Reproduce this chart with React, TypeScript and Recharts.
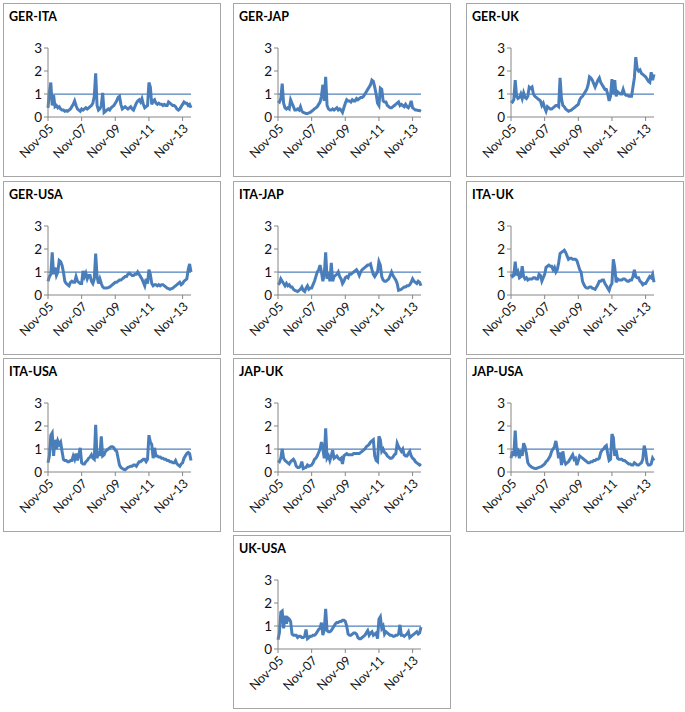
import React from "react";
import { LineChart, Line, XAxis, YAxis, ReferenceLine } from "recharts";

// monthly values, Nov-05 .. May-14 (103 months)
const gerIta = [0.4, 1.1, 1.5, 0.5, 0.95, 0.45, 0.5, 0.4, 0.45, 0.35, 0.3, 0.3, 0.25, 0.28, 0.25, 0.3, 0.35, 0.45, 0.55, 0.7, 0.5, 0.35, 0.3, 0.25, 0.35, 0.3, 0.35, 0.4, 0.35, 0.4, 0.45, 0.5, 0.6, 0.9, 1.9, 0.5, 0.3, 0.35, 0.5, 1.05, 0.2, 0.25, 0.3, 0.35, 0.3, 0.4, 0.45, 0.5, 0.6, 0.7, 0.85, 0.9, 0.55, 0.35, 0.4, 0.45, 0.4, 0.35, 0.4, 0.45, 0.35, 0.3, 0.45, 0.6, 0.7, 0.75, 0.65, 0.8, 0.55, 0.4, 0.45, 0.5, 1.5, 1.3, 0.55, 0.7, 0.75, 0.6, 0.55, 0.6, 0.55, 0.55, 0.5, 0.55, 0.5, 0.5, 0.65, 0.6, 0.55, 0.5, 0.5, 0.45, 0.35, 0.3, 0.35, 0.45, 0.55, 0.65, 0.6, 0.6, 0.5, 0.55, 0.4];
const gerJap = [0.7, 0.65, 0.8, 1.45, 0.6, 0.4, 0.35, 0.4, 0.35, 0.75, 0.6, 0.45, 0.3, 0.3, 0.35, 0.3, 0.45, 0.25, 0.2, 0.18, 0.15, 0.15, 0.18, 0.2, 0.25, 0.3, 0.35, 0.4, 0.45, 0.55, 0.65, 0.9, 1.4, 0.7, 1.75, 0.5, 0.35, 0.3, 0.3, 0.35, 0.3, 0.35, 0.4, 0.3, 0.35, 0.3, 0.2, 0.4, 0.6, 0.75, 0.7, 0.7, 0.65, 0.75, 0.7, 0.7, 0.8, 0.75, 0.8, 0.85, 0.85, 0.9, 1.0, 1.1, 1.2, 1.3, 1.4, 1.6, 1.55, 1.3, 1.0, 0.6, 0.5, 1.25, 1.2, 0.7, 0.65, 0.65, 0.5, 0.45, 0.4, 0.4, 0.45, 0.5, 0.55, 0.6, 0.65, 0.5, 0.55, 0.5, 0.45, 0.55, 0.45, 0.4, 0.5, 0.7, 0.4, 0.35, 0.3, 0.3, 0.28, 0.28, 0.25];
const gerUk = [0.7, 0.65, 0.75, 1.6, 0.9, 0.8, 0.85, 1.0, 0.8, 1.05, 0.85, 0.8, 0.9, 1.3, 1.25, 1.3, 1.0, 0.9, 0.85, 0.8, 0.75, 0.7, 0.5, 0.6, 0.4, 0.25, 0.45, 0.4, 0.35, 0.35, 0.4, 0.45, 0.5, 0.5, 0.45, 1.7, 0.8, 0.5, 0.45, 0.35, 0.3, 0.25, 0.28, 0.3, 0.35, 0.4, 0.45, 0.5, 0.55, 0.75, 0.85, 0.9, 1.0, 1.1, 1.2, 1.4, 1.75, 1.7, 1.6, 1.45, 1.3, 1.45, 1.6, 1.7, 1.5, 1.4, 1.3, 1.2, 1.2, 1.0, 0.7, 0.9, 1.65, 1.0, 1.6, 0.9, 1.1, 1.05, 1.0, 1.0, 1.2, 1.0, 0.95, 0.95, 0.9, 0.9, 0.9, 1.3, 1.7, 2.6, 2.1, 2.0, 2.05, 1.9, 1.85, 1.8, 1.75, 1.65, 1.55, 1.5, 1.95, 1.6, 1.85];
const gerUsa = [0.6, 0.8, 0.9, 1.85, 0.9, 1.2, 0.85, 1.0, 1.5, 1.45, 1.3, 1.0, 0.6, 0.5, 0.45, 0.4, 0.55, 0.6, 0.55, 0.55, 0.8, 0.6, 0.55, 0.5, 0.5, 1.05, 0.8, 0.95, 0.7, 0.85, 0.85, 0.6, 0.5, 0.7, 1.8, 0.8, 0.5, 0.7, 0.5, 0.35, 0.3, 0.3, 0.3, 0.32, 0.35, 0.4, 0.45, 0.5, 0.55, 0.55, 0.6, 0.65, 0.65, 0.7, 0.75, 0.8, 0.8, 0.9, 0.95, 0.9, 0.85, 0.85, 0.9, 0.9, 1.0, 0.9, 0.8, 0.7, 0.55, 0.4, 0.7, 0.5, 1.1, 0.9, 0.5, 0.4, 0.45, 0.45, 0.4, 0.45, 0.4, 0.45, 0.45, 0.4, 0.35, 0.3, 0.28, 0.25, 0.28, 0.3, 0.35, 0.4, 0.45, 0.5, 0.55, 0.45, 0.5, 0.6, 0.65, 0.7, 1.1, 1.35, 1.0];
const itaJap = [0.45, 0.5, 0.7, 0.6, 0.5, 0.4, 0.5, 0.4, 0.45, 0.35, 0.35, 0.25, 0.2, 0.18, 0.15, 0.2, 0.25, 0.35, 0.2, 0.15, 0.3, 0.4, 0.25, 0.3, 0.3, 0.45, 0.6, 0.8, 1.0, 1.1, 1.3, 1.0, 0.6, 0.9, 1.85, 0.7, 1.0, 0.6, 1.4, 0.6, 0.8, 0.85, 0.9, 1.0, 0.8, 0.7, 0.5, 0.6, 0.75, 0.8, 0.75, 0.9, 0.9, 0.95, 1.0, 1.05, 1.1, 1.0, 0.85, 1.0, 1.1, 1.15, 1.2, 1.25, 1.3, 1.3, 1.35, 1.1, 0.9, 0.8, 0.9, 1.0, 1.45, 1.3, 0.8, 0.65, 0.6, 0.6, 0.65, 0.7, 0.85, 1.0, 0.85, 0.75, 0.65, 0.5, 0.2, 0.22, 0.25, 0.3, 0.35, 0.35, 0.4, 0.4, 0.45, 0.55, 0.7, 0.6, 0.55, 0.5, 0.6, 0.55, 0.4];
const itaUk = [0.9, 0.8, 0.85, 1.45, 0.85, 1.0, 0.75, 0.8, 1.25, 0.8, 0.7, 0.75, 0.65, 0.7, 0.7, 0.7, 0.75, 0.75, 0.7, 0.7, 0.9, 0.85, 0.6, 0.75, 0.9, 1.2, 1.25, 1.3, 1.25, 1.25, 1.1, 1.2, 1.0, 1.1, 1.4, 1.8, 1.85, 1.9, 1.95, 1.85, 1.7, 1.55, 1.6, 1.6, 1.55, 1.55, 1.55, 1.5, 1.3, 1.1, 1.0, 0.6, 0.45, 0.35, 0.3, 0.3, 0.35, 0.35, 0.3, 0.28, 0.25, 0.35, 0.45, 0.6, 0.6, 0.65, 0.65, 0.5, 0.4, 0.3, 0.2, 0.4, 0.5, 1.55, 1.2, 0.55, 0.7, 0.65, 0.65, 0.65, 0.7, 0.7, 0.65, 0.6, 0.6, 0.65, 0.65, 0.8, 1.1, 0.8, 0.75, 0.75, 0.6, 0.55, 0.45, 0.5, 0.5, 0.6, 0.7, 0.8, 0.75, 0.9, 0.55];
const itaUsa = [0.4, 0.7, 1.6, 1.7, 0.7, 1.4, 1.0, 1.35, 1.2, 1.3, 0.9, 0.55, 0.5, 0.5, 0.45, 0.45, 0.5, 0.5, 0.7, 0.55, 0.8, 0.5, 0.75, 1.05, 0.4, 0.35, 0.35, 0.45, 0.5, 0.6, 0.65, 0.75, 0.6, 0.55, 2.05, 0.6, 0.9, 0.7, 1.55, 0.7, 0.75, 0.9, 0.95, 1.0, 1.05, 1.1, 1.1, 1.05, 0.95, 0.9, 0.6, 0.3, 0.2, 0.15, 0.12, 0.1, 0.15, 0.2, 0.22, 0.25, 0.25, 0.3, 0.3, 0.25, 0.35, 0.45, 0.45, 0.5, 0.55, 0.55, 0.45, 0.55, 1.6, 1.3, 1.2, 0.6, 1.05, 0.7, 0.7, 0.65, 0.65, 0.6, 0.6, 0.55, 0.55, 0.5, 0.5, 0.45, 0.45, 0.4, 0.4, 0.5, 0.35, 0.3, 0.25, 0.35, 0.4, 0.6, 0.7, 0.8, 0.85, 0.8, 0.5];
const japUk = [0.5, 0.45, 0.6, 1.0, 0.6, 0.5, 0.45, 0.4, 0.35, 0.45, 0.5, 0.55, 0.45, 0.25, 0.2, 0.2, 0.25, 0.45, 0.15, 0.18, 0.2, 0.3, 0.25, 0.28, 0.3, 0.4, 0.55, 0.6, 0.7, 0.85, 1.0, 1.3, 1.0, 0.6, 1.9, 0.6, 0.7, 0.5, 0.7, 0.95, 0.6, 0.65, 0.7, 0.6, 0.55, 0.6, 0.35, 0.7, 0.75, 0.8, 0.75, 0.75, 0.75, 0.75, 0.8, 0.8, 0.8, 0.8, 0.8, 0.85, 0.9, 0.95, 1.0, 1.1, 1.15, 1.2, 1.3, 1.35, 1.4, 0.7, 0.5, 0.45, 1.55, 1.4, 0.9, 1.0, 0.85, 0.8, 0.7, 0.65, 0.6, 0.6, 0.65, 0.75, 0.8, 1.25, 1.1, 1.0, 0.9, 1.0, 0.75, 0.7, 0.7, 0.8, 0.9, 0.7, 0.6, 0.55, 0.45, 0.4, 0.35, 0.3, 0.35];
const japUsa = [0.6, 0.9, 0.7, 1.8, 0.8, 0.9, 0.6, 0.95, 0.7, 1.25, 1.1, 0.8, 0.4, 0.3, 0.25, 0.2, 0.18, 0.15, 0.15, 0.18, 0.2, 0.22, 0.25, 0.3, 0.35, 0.45, 0.5, 0.6, 0.7, 0.9, 1.0, 1.1, 1.35, 1.0, 0.6, 0.85, 0.3, 0.9, 0.5, 0.35, 0.4, 0.45, 0.55, 0.65, 0.75, 0.55, 0.6, 0.3, 0.5, 0.7, 0.65, 0.6, 0.55, 0.5, 0.45, 0.4, 0.4, 0.45, 0.45, 0.5, 0.5, 0.55, 0.55, 0.6, 0.85, 0.95, 1.0, 1.1, 1.15, 0.8, 0.5, 0.55, 1.65, 1.5, 0.7, 0.95, 0.6, 0.55, 0.55, 0.55, 0.5, 0.5, 0.45, 0.4, 0.35, 0.35, 0.3, 0.3, 0.4, 0.35, 0.3, 0.3, 0.35, 0.4, 0.55, 1.15, 0.9, 0.4, 0.3, 0.3, 0.35, 0.6, 0.5];
const ukUsa = [0.4, 0.7, 1.6, 1.65, 0.9, 1.45, 1.1, 1.35, 1.3, 1.2, 0.65, 0.6, 0.6, 0.6, 0.5, 0.55, 0.55, 0.5, 0.5, 0.55, 0.85, 0.45, 0.5, 0.55, 0.55, 0.6, 0.6, 0.65, 0.75, 0.85, 0.9, 1.15, 0.6, 0.85, 1.75, 0.8, 0.75, 0.75, 0.8, 0.9, 1.0, 1.1, 1.15, 1.15, 1.2, 1.2, 1.25, 1.25, 1.2, 1.0, 0.65, 0.6, 0.6, 0.65, 0.7, 0.7, 0.65, 0.5, 0.45, 0.45, 0.5, 0.55, 0.6, 0.7, 0.8, 0.6, 0.7, 0.75, 0.6, 0.65, 0.7, 0.45, 1.3, 1.4, 0.9, 1.0, 0.65, 0.75, 0.7, 0.65, 0.6, 0.6, 0.55, 0.55, 0.6, 0.6, 0.65, 1.05, 0.6, 0.6, 0.55, 0.6, 0.65, 0.75, 0.5, 0.55, 0.6, 0.65, 0.7, 0.75, 0.65, 0.7, 0.95];

const tickLabels = ["Nov-05", "Nov-07", "Nov-09", "Nov-11", "Nov-13"];
const tickMonths = [0, 24, 48, 72, 96];
const yTicks = [0, 1, 2, 3];

const panels = [
  { title: "GER-ITA", values: gerIta, col: 0, row: 0 },
  { title: "GER-JAP", values: gerJap, col: 1, row: 0 },
  { title: "GER-UK", values: gerUk, col: 2, row: 0 },
  { title: "GER-USA", values: gerUsa, col: 0, row: 1 },
  { title: "ITA-JAP", values: itaJap, col: 1, row: 1 },
  { title: "ITA-UK", values: itaUk, col: 2, row: 1 },
  { title: "ITA-USA", values: itaUsa, col: 0, row: 2 },
  { title: "JAP-UK", values: japUk, col: 1, row: 2 },
  { title: "JAP-USA", values: japUsa, col: 2, row: 2 },
  { title: "UK-USA", values: ukUsa, col: 1, row: 3 },
];

const colX = [3, 233, 466];
const rowY = [3, 181, 358, 535];
const W = 218;
const H = 174;
const axisColor = "#868686";
const font = "Lato, 'Open Sans', sans-serif";

function Panel({ title, values, left, top }: { title: string; values: number[]; left: number; top: number }) {
  const data = values.map((v, i) => ({ m: i, v }));
  return (
    <div
      style={{
        position: "absolute",
        left,
        top,
        width: W,
        height: H,
        boxSizing: "border-box",
        border: "1px solid #a6a6a6",
        background: "#fff",
      }}
    >
      <div
        style={{
          position: "absolute",
          left: 5,
          top: 5,
          fontFamily: font,
          fontWeight: 700,
          fontSize: 12.5,
          color: "#000",
        }}
      >
        {title}
      </div>
      <LineChart width={W - 2} height={H - 2} data={data} margin={{ top: 44, right: 29, bottom: 0, left: 0 }}>
        <XAxis
          dataKey="m"
          type="number"
          domain={[0, 102]}
          ticks={tickMonths}
          interval={0}
          tickFormatter={(v: number) => tickLabels[tickMonths.indexOf(v)]}
          height={59}
          stroke={axisColor}
          tickSize={4}
          angle={-45}
          textAnchor="end"
          tick={{ fill: "#111", fontSize: 12.5, fontFamily: font }}
        />
        <YAxis
          type="number"
          domain={[0, 3]}
          ticks={yTicks}
          interval={0}
          width={44}
          stroke={axisColor}
          tickSize={4}
          tickMargin={2}
          tick={{ fill: "#111", fontSize: 13.5, fontFamily: font }}
        />
        <ReferenceLine y={1} stroke="#4F81BD" strokeWidth={1.25} />
        <Line
          type="linear"
          dataKey="v"
          stroke="#4A7EBB"
          strokeWidth={3}
          dot={false}
          isAnimationActive={false}
        />
      </LineChart>
    </div>
  );
}

export default function App() {
  return (
    <div style={{ position: "absolute", left: 0, top: 0, width: 685, height: 712, background: "#fff" }}>
      {panels.map((p) => (
        <Panel key={p.title} title={p.title} values={p.values} left={colX[p.col]} top={rowY[p.row]} />
      ))}
    </div>
  );
}
